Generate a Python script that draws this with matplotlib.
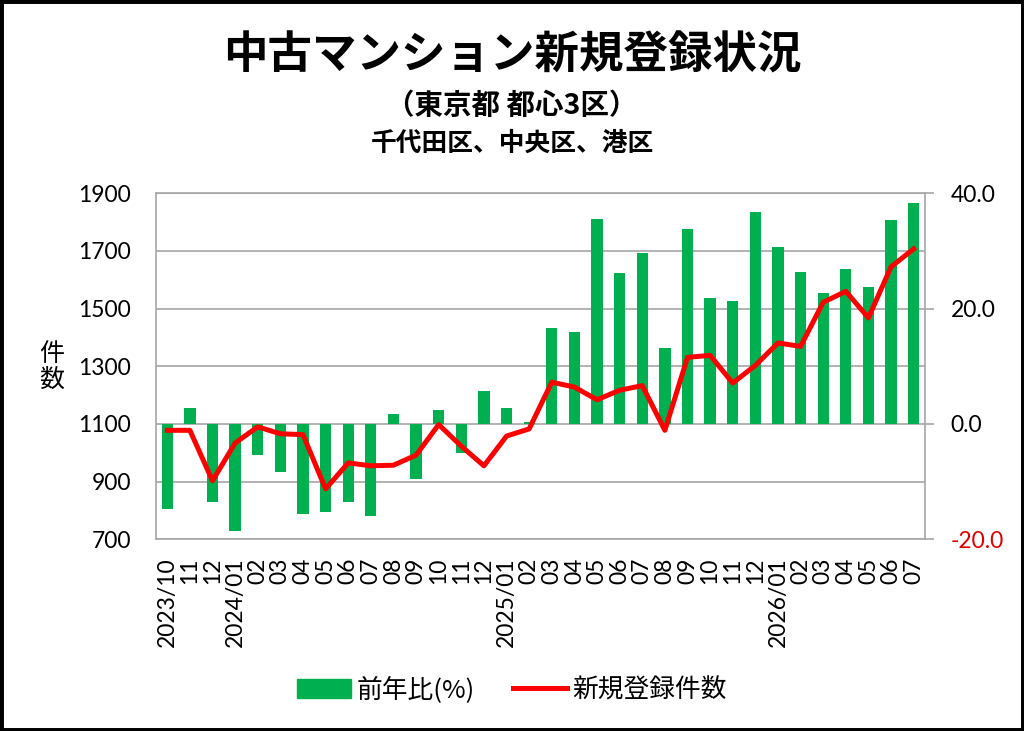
import matplotlib
matplotlib.use('Agg')
import matplotlib.pyplot as plt
from matplotlib.patches import Patch, Rectangle
from matplotlib.lines import Line2D
from matplotlib.ticker import FixedLocator

plt.rcParams['font.family'] = ['Lato', 'Noto Sans CJK JP', 'DejaVu Sans']
JP = ['Noto Sans CJK JP', 'DejaVu Sans']

# data
months = ['2023/10', '11', '12',
          '2024/01', '02', '03', '04', '05', '06', '07', '08', '09', '10', '11', '12',
          '2025/01', '02', '03', '04', '05', '06', '07', '08', '09', '10', '11', '12',
          '2026/01', '02', '03', '04', '05', '06', '07']
yoy = [-14.7, 2.8, -13.6,
       -18.6, -5.3, -8.4, -15.6, -15.2, -13.6, -15.9, 1.8, -9.5, 2.4, -5.0, 5.7,
       2.8, 0.3, 16.6, 16.0, 35.5, 26.1, 29.7, 13.2, 33.8, 21.8, 21.3, 36.8,
       30.7, 26.4, 22.7, 26.8, 23.8, 35.3, 38.4]
counts = [1078, 1078, 903,
          1034, 1090, 1066, 1063, 875, 965, 955, 957, 992, 1098, 1023, 955,
          1058, 1083, 1245, 1228, 1184, 1217, 1233, 1078, 1331, 1338, 1242, 1303,
          1381, 1369, 1522, 1560, 1468, 1645, 1707]
left_ticks = [700, 900, 1100, 1300, 1500, 1700, 1900]
right_ticks = [-20, 0, 20, 40]

GREEN = '#00B050'
RED = '#FF0000'
GRID = '#A6A6A6'

fig = plt.figure(figsize=(10.24, 7.31), dpi=100)
ax = fig.add_axes([0.1523, 0.2622, 0.7510, 0.4734])
ax2 = ax.twinx()
ax.set_zorder(2)
ax2.set_zorder(1)
ax.patch.set_visible(False)

x = list(range(len(months)))

# bars: yoy % on right axis
ax2.bar(x, yoy, width=0.5, color=GREEN, zorder=3)
ax2.set_ylim(-20, 40)
ax2.set_yticks(right_ticks, labels=['%.1f' % v for v in right_ticks])
ax2.yaxis.set_minor_locator(FixedLocator([-10, 10, 30]))
ax2.grid(True, which='both', axis='y', color=GRID, lw=1.2, zorder=0)
ax2.tick_params(axis='y', which='major', length=6.5, width=1.2, color=GRID,
                pad=12, labelsize=16.5)
ax2.tick_params(axis='y', which='minor', length=0)
for lab, v in zip(ax2.get_yticklabels(), right_ticks):
    if v < 0:
        lab.set_color('#E00000')
for s in ax2.spines.values():
    s.set_visible(False)

# line: new listings on left axis
ax.plot(x, counts, color=RED, lw=3.6, zorder=5)
ax.set_ylim(700, 1900)
ax.set_yticks(left_ticks)
ax.set_xlim(-0.5, len(months) - 0.5)
ax.set_xticks(x, months, rotation=90)
ax.tick_params(axis='y', length=0, pad=18, labelsize=16.5)
ax.tick_params(axis='x', length=0, pad=13, labelsize=16.5)
for s in ax.spines.values():
    s.set_color(GRID)
    s.set_linewidth(1.2)

# titles
fig.text(0.5, 1 - 56 / 731, '中古マンション新規登録状況', ha='center', va='center',
         fontsize=32, fontweight='bold', family=JP)
fig.text(0.5, 1 - 106 / 731, '（東京都 都心3区）', ha='center', va='center',
         fontsize=20.5, fontweight='bold', family=JP)
fig.text(0.5, 1 - 143 / 731, '千代田区、中央区、港区', ha='center', va='center',
         fontsize=18.5, fontweight='bold', family=JP)
fig.text(52 / 1024, 1 - 367 / 731, '件\n数', ha='center', va='center',
         fontsize=18, family=JP, linespacing=1.0)

handles = [Patch(color=GREEN), Line2D([], [], color=RED, lw=3.6)]
fig.legend(handles, ['前年比(%)', '新規登録件数'], loc='center',
           bbox_to_anchor=(0.5, 1 - 690 / 731), ncol=2, frameon=False,
           prop={'family': JP, 'size': 18.5}, handlelength=2.1, handleheight=0.8,
           handletextpad=0.2, columnspacing=1.5)

fig.patches.append(Rectangle((0, 0), 1, 1, transform=fig.transFigure,
                             fill=False, edgecolor='black', lw=5))

fig.savefig('out.png', dpi=100)
